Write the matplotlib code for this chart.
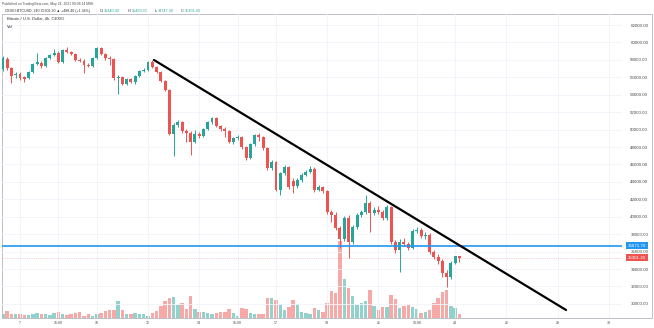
import matplotlib
matplotlib.use("Agg")
import matplotlib.pyplot as plt
from matplotlib.patches import Rectangle

# BTC/USD 4h candles, 6-24 May 2021 (CEXIO)
opens = [56950, 58100, 57070, 56260, 56380, 56030, 55920, 56610, 57530, 57640,
         57300, 58210, 58560, 58790, 57760, 59130, 58900, 58670, 57980, 57870,
         57410, 57300, 58210, 59360, 58670, 58210, 58100, 55920, 56030, 55230,
         55800, 55460, 56150, 56720, 56840, 57760, 57180, 56610, 55570, 54540,
         49490, 50530, 50870, 49840, 49610, 48570, 49490, 49260, 50070, 50870,
         51330, 50410, 50070, 49840, 48570, 49030, 49150, 48000, 46740, 48350,
         49380, 49150, 47890, 45590, 46280, 43070, 45020, 45710, 44100, 43530,
         44210, 44790, 45130, 45480, 43070, 43410, 42950, 40540, 40200, 38710,
         37440, 39850, 37100, 38820, 40200, 40540, 41570, 40430, 40770, 40540,
         39850, 41120, 37100, 36180, 37100, 36870, 36410, 38360, 38480, 37790,
         37900, 35950, 35380, 34920, 33540, 33080, 34690, 35440.3]
highs = [58440, 58330, 57180, 56610, 56610, 56150, 56720, 57640, 58790, 57870,
         58330, 58670, 59250, 59020, 59250, 59480, 59020, 58790, 58210, 58100,
         57640, 58330, 59480, 59480, 58790, 58440, 58210, 56260, 56150, 55920,
         55920, 56260, 56840, 57070, 57870, 57980, 57300, 56720, 55690, 54660,
         50750, 51100, 50980, 50070, 49840, 49950, 49720, 50180, 50980, 51440,
         51440, 50530, 50300, 49950, 49150, 49380, 49260, 48120, 48460, 49490,
         49610, 49260, 48000, 46510, 46390, 45130, 45940, 45820, 44440, 44440,
         45020, 45360, 45820, 45710, 43640, 43530, 43070, 40770, 40540, 38940,
         40080, 40200, 39050, 40430, 40770, 42490, 41800, 41120, 41230, 40770,
         41350, 41230, 37330, 37440, 37560, 37100, 38590, 38820, 38710, 38250,
         38130, 36180, 35720, 35150, 33890, 34920, 35490, 35469.3]
lows = [56720, 56840, 55340, 55920, 55690, 55460, 55800, 56490, 57410, 57070,
        57180, 58100, 58440, 57640, 57640, 58790, 58560, 57870, 57760, 56490,
        57180, 57180, 58100, 58560, 57980, 57410, 55690, 54080, 55120, 55120,
        55340, 55230, 56030, 56610, 56720, 57070, 56490, 55460, 54430, 49380,
        46970, 50300, 49610, 48570, 47080, 48460, 49030, 49150, 49950, 50640,
        50300, 49840, 49150, 48460, 48350, 48800, 47770, 46510, 46620, 48120,
        48690, 47660, 45360, 45360, 42950, 42490, 44790, 43180, 42720, 43300,
        43990, 44670, 45020, 42840, 42950, 42720, 40310, 39390, 38480, 36410,
        37210, 35260, 36870, 38590, 39970, 40310, 38250, 40200, 40310, 39620,
        39620, 36870, 35840, 33660, 36640, 36180, 36300, 38130, 37560, 37440,
        35720, 35150, 34580, 33080, 31940, 32850, 34580, 34747.3]
closes = [58210, 57070, 56150, 56380, 55920, 55800, 56610, 57530, 57760, 57300,
          58210, 58560, 58790, 57760, 59130, 58900, 58670, 57980, 57870, 57410,
          57300, 58210, 59360, 58670, 58210, 58100, 55920, 56030, 55230, 55800,
          55460, 56150, 56720, 56840, 57760, 57180, 56610, 55570, 54540, 49490,
          50530, 50870, 49840, 49610, 48570, 49490, 49260, 50070, 50870, 51330,
          50410, 50070, 49840, 48570, 49030, 49150, 48000, 46740, 48350, 49380,
          49150, 47890, 45590, 46280, 43070, 45020, 45710, 43410, 43530, 44210,
          44790, 45130, 45480, 43070, 43410, 42950, 40540, 40200, 38710, 37440,
          39850, 37100, 38820, 40200, 40540, 41570, 40430, 40770, 40540, 39850,
          41120, 37100, 36180, 37100, 36870, 36410, 38360, 38480, 37790, 37900,
          35950, 35380, 34920, 33540, 33080, 34690, 35440, 35301.3]
volumes = [40, 70, 40, 40, 40, 30, 30, 40, 50, 40,
           40, 30, 50, 60, 40, 30, 40, 50, 60, 20,
           40, 20, 40, 50, 70, 80, 80, 170, 80, 40,
           40, 50, 40, 40, 20, 50, 70, 120, 170, 200,
           210, 130, 150, 90, 220, 90, 60, 60, 50, 40,
           50, 60, 60, 90, 50, 20, 100, 90, 50, 40,
           40, 40, 200, 200, 180, 140, 80, 110, 180, 140,
           60, 50, 40, 100, 80, 60, 150, 270, 250, 770,
           390, 300, 220, 130, 150, 170, 280, 120, 80, 110,
           110, 230, 190, 100, 120, 130, 110, 90, 50, 60,
           80, 150, 200, 260, 280, 120, 100, 40]

# first bar opens 6 May 08:00, one bar every 4 hours (x in days of May)
first_bar = 6 + 2 / 6
days = [first_bar + i / 6 for i in range(len(opens))]

support_level = 36671.70
last_close = 35301.30
trend_days = [12.234, 28.33]
trend_prices = [57984, 29297]

tick_days = [7, 8.5, 10, 12, 14, 15.5, 17, 19, 21, 22.5, 24, 26, 28, 30]
tick_names = ["7", "15:00", "10", "12", "14", "15:00", "17", "19", "21",
              "15:00", "24", "26", "28", "30"]
price_ticks = list(range(30000, 62001, 2000))

UP = "#26a69a"
DOWN = "#ef5350"
UP_VOL = "#92d2cc"
DOWN_VOL = "#f7a9a7"
GRID = "#f0f3fa"
TXT = "#4a4a4a"

plt.rcParams["font.family"] = ["Liberation Sans", "DejaVu Sans"]

W, H = 654, 328
fig = plt.figure(figsize=(W / 100, H / 100), dpi=100)
fig.patch.set_facecolor("white")

# pane: x 2..622 px, y 14..318 px
ax = fig.add_axes([2 / W, 10 / H, 620 / W, 304 / H])
axv = ax.twinx()

ax.set_zorder(axv.get_zorder() + 1)
ax.patch.set_visible(False)

# volume bars
up = [c >= o for o, c in zip(opens, closes)]
vcol = [UP_VOL if u else DOWN_VOL for u in up]
axv.bar(days, volumes, width=0.8 / 6, color=vcol, linewidth=0)
axv.set_ylim(0, 3040)
axv.set_yticks([])
for s in axv.spines.values():
    s.set_visible(False)

# candles
ccol = [UP if u else DOWN for u in up]
ax.vlines(days, lows, highs, colors=ccol, linewidth=0.7, zorder=3)
body_h = [max(abs(c - o), 40) for o, c in zip(opens, closes)]
body_b = [min(o, c) for o, c in zip(opens, closes)]
ax.bar(days, body_h, bottom=body_b, width=0.7 / 6, color=ccol,
       linewidth=0, zorder=4)

ax.set_xlim(6.297, 30.516)
ax.set_ylim(28378, 63263)

# grid
ax.set_xticks(tick_days)
ax.set_xticklabels(tick_names)
ax.set_yticks(price_ticks)
ax.set_yticklabels([f"{p:.2f}" for p in price_ticks])
ax.grid(True, color=GRID, linewidth=0.6, zorder=0)
ax.set_axisbelow(True)
ax.yaxis.tick_right()
ax.tick_params(axis="y", length=0, labelsize=3.2, labelcolor=TXT, pad=6)
ax.tick_params(axis="x", length=0, labelsize=2.6, labelcolor=TXT, pad=2)
for s in ax.spines.values():
    s.set_visible(False)

# horizontal level, last price and trendline
ax.axhline(support_level, color="#2196f3", linewidth=1.2, zorder=5)
ax.axhline(last_close, color=DOWN, linewidth=0.4, alpha=0.5,
           linestyle=(0, (2, 2)), zorder=2)
ax.plot(trend_days, trend_prices, color="black", linewidth=1.6,
        solid_capstyle="round", zorder=6)

ytr = ax.get_yaxis_transform()
ax.text(1.0097, support_level, f"{support_level:.2f}", transform=ytr,
        ha="left", va="center", fontsize=3.2, color="white", clip_on=False,
        zorder=8, bbox=dict(boxstyle="square,pad=0.35", fc="#2196f3", ec="none"))
ax.text(1.0097, last_close, f"{last_close:.2f}", transform=ytr,
        ha="left", va="center", fontsize=3.2, color="white", clip_on=False,
        zorder=8, bbox=dict(boxstyle="square,pad=0.35", fc=DOWN, ec="none"))

# pane border
fig.add_artist(Rectangle((2 / W, 10 / H), 650 / W, 304 / H,
                         transform=fig.transFigure, fill=False,
                         edgecolor="#b2b5be", linewidth=0.6))

# header
fig.text(2 / W, 1 - 4 / H, "Published on TradingView.com, May 24, 2021 09:08:24 MSK",
         fontsize=2.4, color=TXT, va="center")
fig.text(5 / W, 1 - 11 / H, "CEXIO:BTCUSD, 240 35301.30 \u25b2 +488.40 (+1.34%)",
         fontsize=2.6, color="#333333", va="center")
ohlc = [("O:", 100, "35440.30", 104), ("H:", 128, "35469.30", 132),
        ("L:", 155, "34747.30", 158), ("C:", 181, "35301.30", 185)]
for key, kx, val, vx in ohlc:
    fig.text(kx / W, 1 - 11 / H, key, fontsize=2.7, color="#333333", va="center")
    fig.text(vx / W, 1 - 11 / H, val, fontsize=2.7, color=UP, va="center")
fig.text(7 / W, 1 - 19 / H, "Bitcoin / U.S. Dollar, 4h, CEXIO",
         fontsize=3.0, color="#333333", va="center")
fig.text(7 / W, 1 - 27 / H, "Vol", fontsize=3.0, color="#333333", va="center")

fig.savefig("out.png", dpi=100, facecolor="white")
